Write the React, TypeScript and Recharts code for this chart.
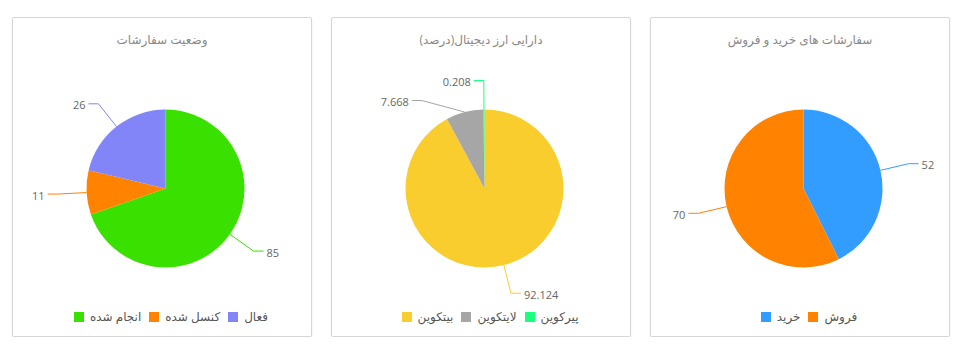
import { PieChart, Pie, Cell, Legend } from 'recharts';

// Order status
const orderNames = ['انجام شده', 'کنسل شده', 'فعال'];
const orderValues = [85, 11, 26];
const orderColors = ['#3ae000', '#ff8200', '#8285f7'];

// Crypto holdings (percent)
const cryptoNames = ['بیتکوین', 'لایتکوین', 'پیرکوین'];
const cryptoValues = [92.124, 7.668, 0.208];
const cryptoColors = ['#facd2f', '#a6a6a6', '#1aff80'];

// Buy / sell orders
const tradeNames = ['خرید', 'فروش'];
const tradeValues = [52, 70];
const tradeColors = ['#339dff', '#ff8200'];

const titles = ['وضعیت سفارشات', 'دارایی ارز دیجیتال(درصد)', 'سفارشات های خرید و فروش'];

const FONT = '"Open Sans", "DejaVu Sans", sans-serif';
const RADIAN = Math.PI / 180;
const CARD_W = 300;
const CARD_H = 320;
const CHART_W = CARD_W - 2;
const CHART_H = CARD_H - 2;
const CX = 152.5;
const CY = 170.5;
const R = 79;
const LABEL_DIST = 29;
const MIN_GAP = 20;

// natural label positions + simple collision push on each side
const layoutLabels = (values: number[], cx: number, cy: number, r: number) => {
  const total = values.reduce((s, v) => s + v, 0);
  let cum = 0;
  const outer = r + LABEL_DIST;
  const items = values.map((v, i) => {
    const mid = 90 - (360 * (cum + v / 2)) / total;
    cum += v;
    const ex = cx + Math.cos(-mid * RADIAN) * r;
    const ey = cy + Math.sin(-mid * RADIAN) * r;
    const bx = cx + Math.cos(-mid * RADIAN) * outer;
    const by = cy + Math.sin(-mid * RADIAN) * outer;
    return { i, ex, ey, bx, by, right: bx >= cx };
  });
  [true, false].forEach((side) => {
    const group = items.filter((it) => it.right === side).sort((a, b) => a.by - b.by);
    for (let k = 1; k < group.length; k++) {
      const prev = group[k - 1];
      const cur = group[k];
      if (cur.by < prev.by + MIN_GAP) {
        cur.by = prev.by + MIN_GAP;
        const dy = cur.by - cy;
        const dx = Math.sqrt(Math.max(outer * outer - dy * dy, 0));
        cur.bx = side ? cx + dx : cx - dx;
      }
    }
  });
  return items;
};

const makeLabel = (values: number[], colors: string[]) => (props: any) => {
  const { cx, cy, outerRadius, index } = props;
  const pos = layoutLabels(values, cx, cy, outerRadius)[index];
  const dir = pos.right ? 1 : -1;
  const hx = pos.bx + dir * 10;
  return (
    <g>
      <polyline
        points={`${pos.ex},${pos.ey} ${pos.bx},${pos.by} ${hx},${pos.by}`}
        fill="none"
        stroke={colors[index]}
        strokeWidth={1}
      />
      <text
        x={hx + dir * 3}
        y={pos.by + 1}
        textAnchor={pos.right ? 'start' : 'end'}
        dominantBaseline="central"
        fill="#666"
        fontSize={11}
        fontFamily={FONT}
      >
        {String(values[index])}
      </text>
    </g>
  );
};

const LegendContent = ({ names, colors }: { names: string[]; colors: string[] }) => (
  <div
    style={{
      display: 'flex',
      justifyContent: 'center',
      alignItems: 'center',
      paddingLeft: 18,
      fontFamily: FONT,
      fontSize: 12,
      color: '#555',
    }}
  >
    {names.map((n, i) => (
      <div key={n} style={{ display: 'flex', alignItems: 'center', marginRight: i < names.length - 1 ? 8 : 0 }}>
        <span style={{ width: 10, height: 10, background: colors[i], display: 'inline-block', marginRight: 6 }} />
        <span dir="rtl">{n}</span>
      </div>
    ))}
  </div>
);

const PieCard = ({ title, names, values, colors }: { title: string; names: string[]; values: number[]; colors: string[] }) => {
  const data = names.map((name, i) => ({ name, value: values[i] }));
  return (
    <div
      style={{
        width: CARD_W,
        height: CARD_H,
        boxSizing: 'border-box',
        border: '1px solid #d6d6d6',
        borderRadius: 2,
        boxShadow: '0 1px 2px rgba(0,0,0,0.08)',
        position: 'relative',
        background: '#fff',
      }}
    >
      <div
        dir="rtl"
        style={{
          position: 'absolute',
          top: 13,
          left: 0,
          width: CHART_W,
          textAlign: 'center',
          fontFamily: FONT,
          fontSize: 12,
          lineHeight: '18px',
          color: '#888',
        }}
      >
        {title}
      </div>
      <PieChart width={CHART_W} height={CHART_H} margin={{ top: 0, right: 0, bottom: 0, left: 0 }}>
        <Pie
          data={data}
          dataKey="value"
          nameKey="name"
          cx={CX}
          cy={CY}
          outerRadius={R}
          startAngle={90}
          endAngle={-270}
          stroke="none"
          label={makeLabel(values, colors)}
          labelLine={false}
          isAnimationActive={false}
        >
          {data.map((d, i) => (
            <Cell key={d.name} fill={colors[i]} />
          ))}
        </Pie>
        <Legend
          content={() => <LegendContent names={names} colors={colors} />}
          wrapperStyle={{ top: 290, left: 0, width: CHART_W }}
        />
      </PieChart>
    </div>
  );
};

export default function App() {
  return (
    <div style={{ display: 'flex', gap: 19, paddingLeft: 4, paddingTop: 9, width: 958 }}>
      <PieCard title={titles[0]} names={orderNames} values={orderValues} colors={orderColors} />
      <PieCard title={titles[1]} names={cryptoNames} values={cryptoValues} colors={cryptoColors} />
      <PieCard title={titles[2]} names={tradeNames} values={tradeValues} colors={tradeColors} />
    </div>
  );
}
